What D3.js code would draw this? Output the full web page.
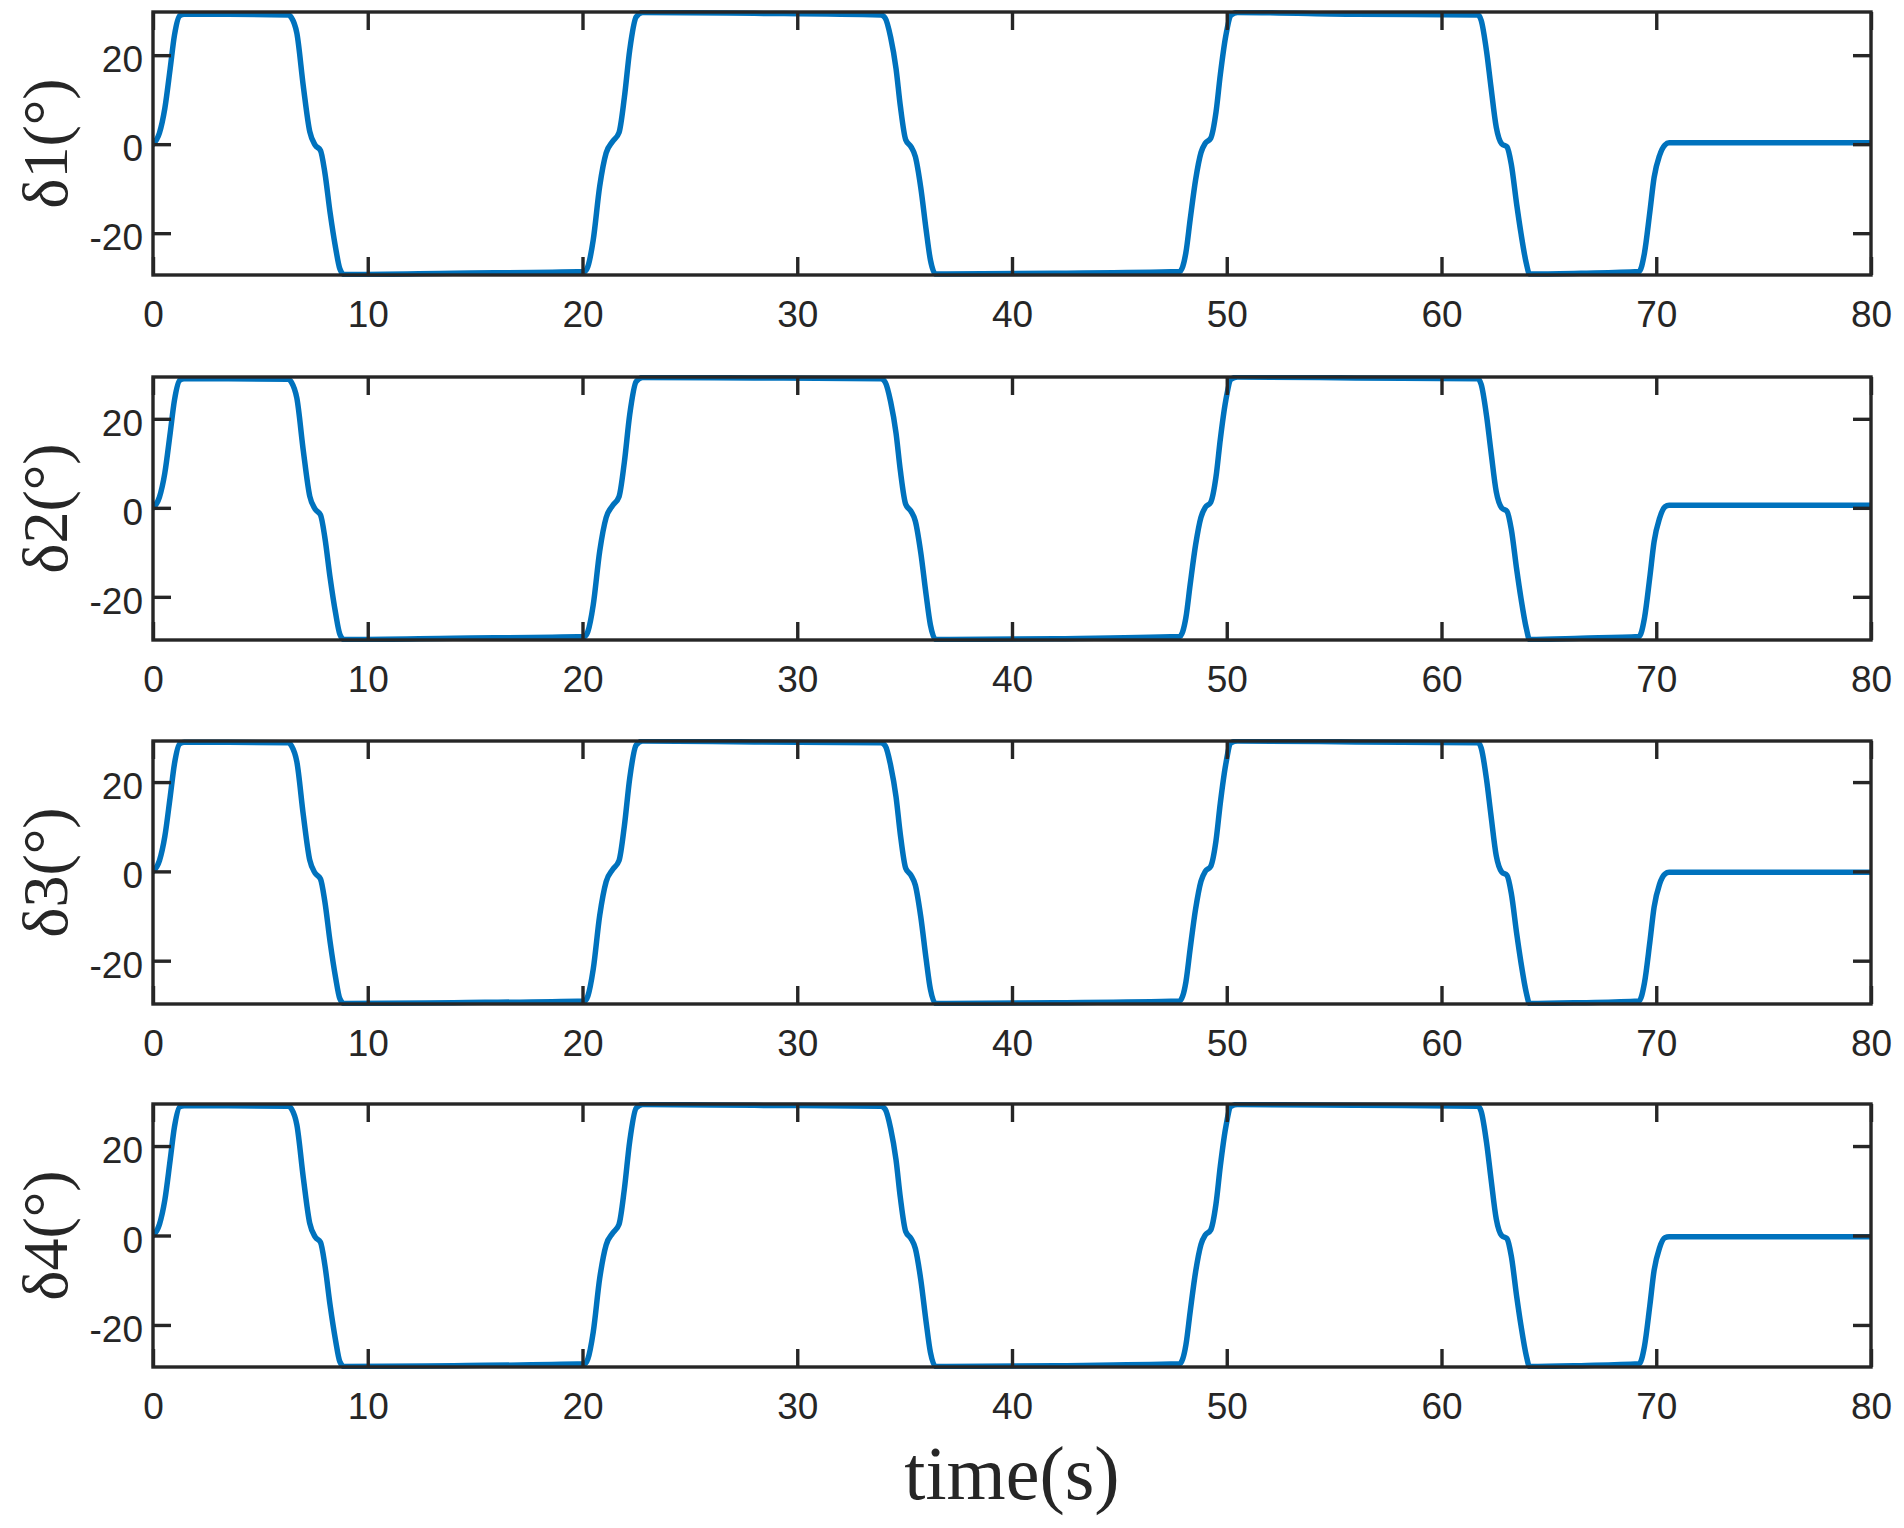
<!DOCTYPE html>
<html>
<head>
<meta charset="utf-8">
<script src="https://cdn.jsdelivr.net/npm/d3@7"></script>
<style>
  html, body { margin: 0; padding: 0; background: #fff; }
  svg { display: block; }
</style>
</head>
<body>
<svg id="chart" width="1904" height="1528"></svg>
<script>
// ---------- DATA ----------
const xTicks = [0, 10, 20, 30, 40, 50, 60, 70, 80];
const yTicks = [-20, 0, 20];
const panelLabels = ["δ1(°)", "δ2(°)", "δ3(°)", "δ4(°)"];
const xLabel = "time(s)";
const xDomain = [0, 80];
const yDomains = [[-29.4, 29.7], [-29.7, 29.4], [-29.7, 29.2], [-29.4, 29.4]];

const time = [0, 0.3, 0.55, 0.8, 1.0, 1.25, 1.45, 3.5, 6.3, 6.45, 6.7, 7.0, 7.3, 7.55, 7.8, 8.0, 8.25, 8.5, 8.7, 8.9,
  14, 20.1, 20.25, 20.5, 20.8, 21.1, 21.4, 21.7, 21.95, 22.2, 22.5, 22.8,
  28, 33.9, 34.1, 34.35, 34.6, 34.8, 35.05, 35.3, 35.5, 35.75, 36.0, 36.2, 36.45,
  42, 47.8, 48.1, 48.3, 48.55, 48.8, 49.0, 49.25, 49.5, 49.7, 49.95, 50.2, 50.5,
  56, 61.7, 61.85, 62.1, 62.3, 62.55, 62.8, 63.05, 63.25, 63.5, 63.7, 63.95, 64.1,
  66.5, 69.2, 69.45, 69.7, 69.9, 70.15, 70.4, 70.6, 80];

const delta1 = [0, 2.5, 8, 17, 24.5, 28.9, 29.2, 29.2, 29.0, 28.4, 24.9, 13, 2.8, -0.2, -1.4, -6.3, -15.5, -23.2, -28.0, -29.3,
  -29.0, -28.6, -27.5, -21.5, -9.5, -2.0, 0.6, 2.6, 10.5, 21.2, 28.6, 29.6,
  29.4, 29.0, 28.3, 24.0, 17.0, 8.6, 1.0, -0.6, -2.8, -9.7, -19.2, -26.0, -29.2,
  -29.0, -28.6, -24.3, -16.8, -8.0, -1.9, 0.2, 1.3, 7.2, 15.6, 24.2, 29.0, 29.6,
  29.2, 29.0, 27.8, 20.8, 13.0, 3.8, 0.1, -0.6, -4.5, -13.5, -20.0, -26.8, -29.2,
  -29.0, -28.6, -24.5, -15.3, -7.5, -2.6, -0.2, 0.3, 0.3];

const delta2 = [0, 2.4, 7.8, 16.8, 24.2, 28.7, 29.0, 29.0, 28.9, 28.2, 24.6, 12.8, 2.6, -0.3, -1.6, -6.6, -15.8, -23.6, -28.4, -29.6,
  -29.3, -28.9, -27.8, -21.8, -9.8, -2.2, 0.5, 2.5, 10.3, 21.0, 28.4, 29.3,
  29.2, 29.0, 28.2, 23.8, 16.8, 8.4, 0.8, -0.8, -3.0, -10.0, -19.5, -26.3, -29.6,
  -29.4, -28.9, -24.6, -17.1, -8.3, -2.1, 0.1, 1.2, 7.0, 15.4, 24.0, 28.9, 29.4,
  29.2, 29.0, 27.7, 20.6, 12.8, 3.6, 0.0, -0.8, -4.8, -13.8, -20.3, -27.1, -29.6,
  -29.3, -28.9, -24.8, -15.6, -7.6, -2.4, 0.2, 0.6, 0.6];

const delta3 = [0, 2.4, 7.8, 16.7, 24.1, 28.6, 28.9, 28.9, 28.8, 28.1, 24.5, 12.6, 2.5, -0.4, -1.7, -6.7, -15.9, -23.7, -28.5, -29.6,
  -29.4, -29.0, -27.9, -21.9, -9.9, -2.3, 0.4, 2.4, 10.2, 20.9, 28.3, 29.2,
  29.0, 28.8, 28.1, 23.7, 16.7, 8.3, 0.7, -0.9, -3.1, -10.1, -19.6, -26.4, -29.6,
  -29.4, -29.0, -24.7, -17.2, -8.4, -2.2, 0.0, 1.1, 6.9, 15.3, 23.9, 28.8, 29.2,
  29.0, 28.8, 27.6, 20.5, 12.7, 3.5, -0.1, -0.9, -4.9, -13.9, -20.4, -27.2, -29.6,
  -29.4, -29.0, -25.0, -15.9, -8.0, -2.9, -0.6, -0.2, -0.2];

const delta4 = [0, 2.5, 7.9, 16.9, 24.3, 28.8, 29.0, 29.0, 28.9, 28.3, 24.7, 12.9, 2.7, -0.3, -1.5, -6.5, -15.7, -23.4, -28.2, -29.3,
  -29.1, -28.7, -27.6, -21.6, -9.6, -2.1, 0.5, 2.5, 10.4, 21.1, 28.5, 29.3,
  29.1, 28.9, 28.2, 23.9, 16.9, 8.5, 0.9, -0.7, -2.9, -9.8, -19.3, -26.1, -29.3,
  -29.1, -28.7, -24.4, -16.9, -8.1, -2.0, 0.1, 1.2, 7.1, 15.5, 24.1, 28.9, 29.3,
  29.1, 28.9, 27.7, 20.7, 12.9, 3.7, 0.0, -0.7, -4.6, -13.6, -20.1, -26.9, -29.3,
  -29.1, -28.7, -24.8, -15.7, -7.8, -2.8, -0.5, -0.3, -0.3];

const series = [delta1, delta2, delta3, delta4];

// ---------- LAYOUT ----------
const left = 153, right = 1871;
const panelTops = [12, 377, 741, 1104];
const panelH = 263;
const frameColor = "#262626";
const lineColor = "#0072BD";
const tickLen = 18;
const tickFont = "'Liberation Sans', Arial, Helvetica, sans-serif";
const labelFont = "'Liberation Serif', 'Times New Roman', Times, serif";

const svg = d3.select("#chart");
const x = d3.scaleLinear().domain(xDomain).range([left, right]);
const fmt = d => String(d);

series.forEach((vals, i) => {
  const top = panelTops[i], bottom = top + panelH;
  const y = d3.scaleLinear().domain(yDomains[i]).range([bottom, top]);
  const g = svg.append("g");

  const clipId = "clip" + i;
  svg.append("clipPath").attr("id", clipId)
    .append("rect").attr("x", left).attr("y", top - 2).attr("width", right - left).attr("height", panelH + 4);

  const data = time.map((t, k) => [t, vals[k]]);
  g.append("path")
    .datum(data)
    .attr("clip-path", `url(#${clipId})`)
    .attr("fill", "none")
    .attr("stroke", lineColor)
    .attr("stroke-width", 5.5)
    .attr("stroke-linejoin", "round")
    .attr("stroke-linecap", "round")
    .attr("d", d3.line().x(d => x(d[0])).y(d => y(d[1])).curve(d3.curveMonotoneX));

  const axB = d3.axisBottom(x).tickValues(xTicks).tickSize(-tickLen).tickPadding(0).tickFormat(fmt);
  const axT = d3.axisTop(x).tickValues(xTicks).tickSize(-tickLen).tickFormat("");
  const axL = d3.axisLeft(y).tickValues(yTicks).tickSize(-tickLen).tickFormat(fmt);
  const axR = d3.axisRight(y).tickValues(yTicks).tickSize(-tickLen).tickFormat("");

  const gB = g.append("g").attr("transform", `translate(0,${bottom})`).call(axB);
  const gT = g.append("g").attr("transform", `translate(0,${top})`).call(axT);
  const gL = g.append("g").attr("transform", `translate(${left},0)`).call(axL);
  const gR = g.append("g").attr("transform", `translate(${right},0)`).call(axR);

  [gB, gT, gL, gR].forEach(a => {
    a.select(".domain").remove();
    a.selectAll(".tick line").attr("stroke", frameColor).attr("stroke-width", 3.4);
  });

  gB.selectAll(".tick text")
    .attr("y", 52).attr("dy", null)
    .attr("fill", frameColor)
    .style("font-family", tickFont)
    .style("font-size", "37px");
  gL.selectAll(".tick text")
    .attr("x", -10).attr("dy", null).attr("y", 16.5)
    .attr("fill", frameColor)
    .style("font-family", tickFont)
    .style("font-size", "37px");

  g.append("rect")
    .attr("x", left).attr("y", top)
    .attr("width", right - left).attr("height", panelH)
    .attr("fill", "none")
    .attr("stroke", frameColor)
    .attr("stroke-width", 3.4);

  g.append("text")
    .attr("transform", `translate(67,${(top + bottom) / 2}) rotate(-90)`)
    .attr("text-anchor", "middle")
    .attr("fill", frameColor)
    .style("font-family", labelFont)
    .style("font-size", "64px")
    .text(panelLabels[i]);
});

svg.append("text")
  .attr("x", (left + right) / 2)
  .attr("y", 1499)
  .attr("text-anchor", "middle")
  .attr("fill", frameColor)
  .style("font-family", labelFont)
  .style("font-size", "76px")
  .text(xLabel);
</script>
</body>
</html>
